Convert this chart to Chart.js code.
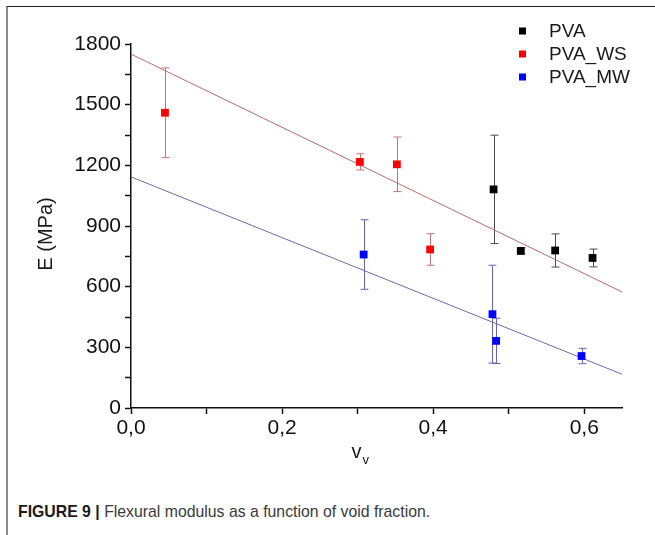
<!DOCTYPE html>
<html>
<head>
<meta charset="utf-8">
<title>Flexural modulus vs void fraction</title>
<script src="https://cdn.jsdelivr.net/npm/chart.js@4.4.1/dist/chart.umd.min.js"></script>
<style>
  html, body { margin: 0; padding: 0; background: #fff; }
  #wrap { position: relative; width: 655px; height: 535px; overflow: hidden; background: #fff; }
  #frame { position: absolute; left: 6px; top: 6px; width: 660px; height: 540px;
           border-left: 2px solid #8c8c8c; border-top: 1.5px solid #1e1e1e; box-sizing: border-box; }
  #chart { position: absolute; left: 0; top: 0; }
  #caption { position: absolute; left: 18px; top: 502px; white-space: nowrap;
             font-family: "Liberation Sans", Arial, sans-serif; font-size: 17px; color: #3a3a3a;
             transform-origin: left top; transform: scaleX(0.93); }
  #caption b { color: #1a1a1a; }
</style>
</head>
<body>
<div id="wrap">
  <div id="frame"></div>
  <canvas id="chart" width="655" height="480"></canvas>
  <div id="caption"><b>FIGURE 9 |</b> Flexural modulus as a function of void fraction.</div>
</div>
<script>
// Void fraction (v_v) and flexural modulus E (MPa) with standard deviations
const pvaV   = [0.480, 0.516, 0.5615, 0.611];
const pvaE   = [1081, 777, 779, 742];
const pvaErr = [268, 15, 82, 44];

const wsV    = [0.045, 0.303, 0.352, 0.396];
const wsE    = [1460, 1217, 1205, 784];
const wsErr  = [222, 40, 135, 78];

const mwV    = [0.308, 0.4785, 0.4834, 0.5964];
const mwE    = [759, 464, 332, 257];
const mwErr  = [172, 242, 112, 38];

// Linear fits (end points over the plotted range)
const fitV   = [0, 0.65];
const wsFitE = [1750, 574];
const mwFitE = [1143, 167];

const seriesNames = ['PVA', 'PVA_WS', 'PVA_MW'];
const xTicks = [0, 0.1, 0.2, 0.3, 0.4, 0.5, 0.6];

const FONT = '"Liberation Sans", Arial, sans-serif';
const toPts = (xs, ys) => xs.map((x, i) => ({ x: x, y: ys[i] }));

const markerDataset = (label, xs, ys, errs, color, barColor) => ({
  label: label,
  data: toPts(xs, ys),
  errors: errs,
  barColor: barColor,
  backgroundColor: color,
  borderColor: color,
  pointStyle: 'rect',
  pointRadius: 5.5,
  pointBorderWidth: 0,
  order: 1
});

const fitDataset = (label, ys, color) => ({
  label: label,
  type: 'line',
  data: toPts(fitV, ys),
  borderColor: color,
  borderWidth: 1,
  pointRadius: 0,
  fill: false,
  order: 3
});

// Vertical error bars with caps, drawn underneath the markers
const errorBars = {
  id: 'errorBars',
  beforeDatasetsDraw(chart) {
    const { ctx, scales: { x, y } } = chart;
    ctx.save();
    ctx.lineWidth = 1;
    chart.data.datasets.forEach(ds => {
      if (!ds.errors) return;
      ctx.strokeStyle = ds.barColor;
      ds.data.forEach((p, i) => {
        const px = Math.round(x.getPixelForValue(p.x)) + 0.5;
        const top = y.getPixelForValue(p.y + ds.errors[i]);
        const bot = y.getPixelForValue(p.y - ds.errors[i]);
        ctx.beginPath();
        ctx.moveTo(px, top); ctx.lineTo(px, bot);
        ctx.moveTo(px - 4, top); ctx.lineTo(px + 4, top);
        ctx.moveTo(px - 4, bot); ctx.lineTo(px + 4, bot);
        ctx.stroke();
      });
    });
    ctx.restore();
  }
};

// Legend, axis titles (with the subscript on v_v)
const annotations = {
  id: 'annotations',
  afterDraw(chart) {
    const { ctx, chartArea: a } = chart;
    ctx.save();
    ctx.fillStyle = '#1a1a1a';

    // legend
    const markers = chart.data.datasets.filter(d => d.errors);
    ctx.font = '19px ' + FONT;
    ctx.textBaseline = 'middle';
    ctx.textAlign = 'left';
    markers.forEach((d, i) => {
      const cy = 31 + i * 23;
      ctx.fillStyle = d.backgroundColor;
      ctx.fillRect(519, cy - 3.5, 7, 7);
      ctx.fillStyle = '#1a1a1a';
      ctx.fillText(d.label, 549, cy + 1);
    });

    // y title
    ctx.save();
    ctx.translate(46, 234);
    ctx.rotate(-Math.PI / 2);
    ctx.textAlign = 'center';
    ctx.font = '20px ' + FONT;
    ctx.fillText('E (MPa)', 0, 0);
    ctx.restore();

    // x title: v with subscript v
    ctx.textAlign = 'left';
    ctx.textBaseline = 'alphabetic';
    ctx.font = '20px ' + FONT;
    const cx = (a.left + a.right) / 2;
    const w1 = ctx.measureText('v').width;
    ctx.fillText('v', cx - 25, 458);
    ctx.font = '13px ' + FONT;
    ctx.fillText('v', cx - 25 + w1 + 1, 464);
    ctx.restore();
  }
};

const axisCommon = {
  border: { color: '#111', width: 1.5 },
  grid: { drawOnChartArea: false, drawTicks: true, tickLength: 6, tickColor: '#111', tickWidth: 1.5 },
};

new Chart(document.getElementById('chart'), {
  type: 'scatter',
  data: {
    datasets: [
      fitDataset('PVA_WS fit', wsFitE, '#b86a72'),
      fitDataset('PVA_MW fit', mwFitE, '#6a6aaa'),
      markerDataset(seriesNames[0], pvaV, pvaE, pvaErr, '#000000', '#4a4a4a'),
      markerDataset(seriesNames[1], wsV, wsE, wsErr, '#ff0000', '#c87474'),
      markerDataset(seriesNames[2], mwV, mwE, mwErr, '#0000ff', '#6464b4')
    ]
  },
  options: {
    responsive: false,
    animation: false,
    devicePixelRatio: 1,
    layout: { padding: { left: 0, right: 33, top: 44, bottom: 0 } },
    plugins: { legend: { display: false }, tooltip: { enabled: false } },
    scales: {
      x: {
        type: 'linear', min: 0, max: 0.65,
        afterFit(s) { s.height = 72; },
        afterBuildTicks(s) { s.ticks = xTicks.map(v => ({ value: v })); },
        ticks: {
          includeBounds: false, padding: 2, color: '#111', maxRotation: 0,
          font: { family: FONT, size: 21 },
          callback: (v) => (Math.round(v * 10) % 2 === 0 ? v.toFixed(1).replace('.', ',') : '')
        },
        ...axisCommon
      },
      y: {
        type: 'linear', min: 0, max: 1800,
        afterFit(s) { s.width = 131; },
        ticks: {
          stepSize: 150, includeBounds: false, padding: 4, color: '#111',
          font: { family: FONT, size: 21 },
          callback: (v) => (Math.round(v) % 300 === 0 ? String(Math.round(v)) : '')
        },
        ...axisCommon
      }
    }
  },
  plugins: [errorBars, annotations]
});
</script>
</body>
</html>
